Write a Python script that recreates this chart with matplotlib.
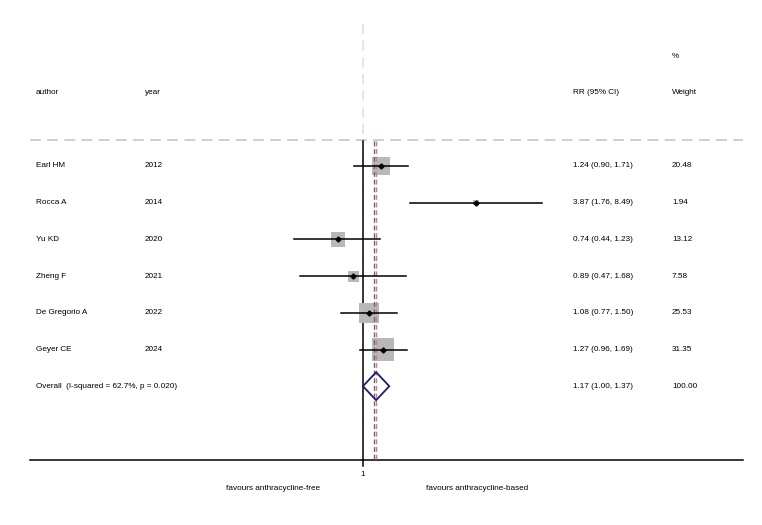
import numpy as np
import matplotlib
matplotlib.use("Agg")
import matplotlib.pyplot as plt
from matplotlib.patches import Polygon

authors = ["Earl HM", "Rocca A", "Yu KD", "Zheng F", "De Gregorio A", "Geyer CE"]
years = ["2012", "2014", "2020", "2021", "2022", "2024"]
rr = [1.24, 3.87, 0.74, 0.89, 1.08, 1.27]
lo = [0.90, 1.76, 0.44, 0.47, 0.77, 0.96]
hi = [1.71, 8.49, 1.23, 1.68, 1.50, 1.69]
weights = [20.48, 1.94, 13.12, 7.58, 25.53, 31.35]
overall = (1.17, 1.00, 1.37)
overall_label = "Overall  (I-squared = 62.7%, p = 0.020)"
blue_ref = 1.14

W, H = 762, 525
plt.rcParams['font.family'] = ['Liberation Sans', 'DejaVu Sans']
fig = plt.figure(figsize=(W/100, H/100), dpi=100)
ax = fig.add_axes([0, 0, 1, 1])
ax.set_xscale('log')
px_per = 83.5
x0 = 363
ax.set_xlim(np.exp((0 - x0)/px_per), np.exp((W - x0)/px_per))
row0, rstep = 166, 36.7
def row(py):
    return (py - row0)/rstep
ax.set_ylim(row(H), row(0))
ax.axis('off')

fs = 5.9
def ftext(px, py, s, **kw):
    fig.text(px/W, 1 - py/H, s, fontsize=fs, va='center', **kw)

# header
ftext(672, 57, "%")
ftext(36, 93, "author")
ftext(145, 93, "year")
ftext(573, 93, "RR (95% CI)")
ftext(672, 93, "Weight")

xmin_line = np.exp((30 - x0)/px_per)
xmax_line = np.exp((743 - x0)/px_per)
ax.plot([xmin_line, xmax_line], [row(140)]*2, color='#cccccc', lw=1.3,
        dashes=(6, 3.5))
ax.plot([1, 1], [row(24), row(138)], color='#e0e0e0', lw=1.2, dashes=(6, 4))

# reference lines
ax.plot([1, 1], [row(141), row(460)], color='black', lw=1.1, zorder=2)
ax.plot([blue_ref]*2, [row(141), row(460)], color='#4f6d9a', lw=1.0,
        dashes=(3.5, 2), zorder=3.5)
ax.plot([overall[0]]*2, [row(141), row(460)], color='#ff6b6b', lw=1.0,
        dashes=(3.5, 2), zorder=3.5)

for i in range(len(authors)):
    side_px = 3.977*np.sqrt(weights[i])
    ax.scatter([rr[i]], [i], marker='s', s=(side_px*0.72)**2, color='#b8b8b8',
               edgecolors='none', zorder=3)
    ax.plot([lo[i], hi[i]], [i, i], color='black', lw=1.1, zorder=4)
    ax.plot([rr[i]], [i], marker='D', ms=2.6, color='black', zorder=5)
    ftext(36, row0 + rstep*i, authors[i])
    ftext(145, row0 + rstep*i, years[i])
    ftext(573, row0 + rstep*i, f"{rr[i]:.2f} ({lo[i]:.2f}, {hi[i]:.2f})")
    ftext(672, row0 + rstep*i, f"{weights[i]:.2f}")

io = len(authors)
dh = 14/rstep
diamond = Polygon([[overall[1], io], [overall[0], io - dh], [overall[2], io],
                   [overall[0], io + dh]], closed=True, fill=False,
                  edgecolor='#1c1c70', lw=1.3, zorder=6)
ax.add_patch(diamond)
ftext(36, row0 + rstep*io, overall_label)
ftext(573, row0 + rstep*io, f"{overall[0]:.2f} ({overall[1]:.2f}, {overall[2]:.2f})")
ftext(672, row0 + rstep*io, "100.00")

# x axis
ax.plot([xmin_line, xmax_line], [row(460)]*2, color='black', lw=1.1)
ax.plot([1, 1], [row(460), row(466)], color='black', lw=1.1)
fig.text(363/W, 1 - 474/H, "1", fontsize=fs, ha='center', va='center')
fig.text(273/W, 1 - 489/H, "favours anthracycline-free", fontsize=fs, ha='center', va='center')
fig.text(477/W, 1 - 489/H, "favours anthracycline-based", fontsize=fs, ha='center', va='center')

fig.savefig("out.png", dpi=100, facecolor='white')
